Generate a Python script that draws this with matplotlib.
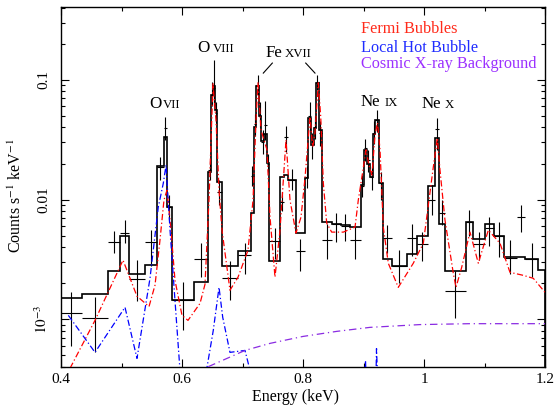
import numpy as np
import matplotlib
matplotlib.use('Agg')
import matplotlib.pyplot as plt
from matplotlib.ticker import MultipleLocator, FuncFormatter, LogLocator, NullFormatter, FixedLocator

plt.rcParams['font.family'] = ['Liberation Serif', 'DejaVu Serif']
plt.rcParams['mathtext.fontset'] = 'stix'

# ---- data (keV, counts s^-1 keV^-1) ----
bin_edges = [0.4, 0.4342, 0.4782, 0.4975, 0.5129, 0.5388, 0.5582, 0.5702, 0.5752, 0.583,
             0.6198, 0.6435, 0.648, 0.6512, 0.6545, 0.6574, 0.6656, 0.6931, 0.714, 0.719,
             0.7231, 0.7273, 0.7314, 0.7355, 0.7397, 0.7443, 0.762, 0.7694, 0.776, 0.7884,
             0.8033, 0.8083, 0.8132, 0.8174, 0.8215, 0.8264, 0.831, 0.8474, 0.862, 0.8777,
             0.8954, 0.9, 0.9058, 0.9107, 0.9165, 0.9198, 0.9256, 0.9317, 0.9466, 0.9714,
             0.9879, 1.0071, 1.0182, 1.0248, 1.0347, 1.0689, 1.0815, 1.1008, 1.1157, 1.1322,
             1.1532, 1.1669, 1.1889, 1.2]

model_total = [1.52e-3, 1.62e-3, 2.54e-3, 4.95e-3, 2.38e-3, 2.87e-3, 0.0191, 0.0333, 8.7e-3, 1.44e-3,
               2.05e-3, 0.017, 0.075, 0.089, 0.056, 0.0141, 2.78e-3, 3.71e-3, 7.8e-3, 0.040,
               0.088, 0.050, 0.031, 0.035, 0.0202, 3.08e-3, 0.0155, 0.016, 0.0146, 5.27e-3,
               0.0151, 0.048, 0.0286, 0.0397, 0.094, 0.038, 6.5e-3, 6.2e-3, 6.1e-3, 5.9e-3,
               0.0132, 0.026, 0.020, 0.0155, 0.035, 0.046, 0.0137, 3.22e-3, 2.78e-3, 3.5e-3,
               4.95e-3, 0.013, 0.0325, 6.2e-3, 2.54e-3, 6.44e-3, 4.73e-3, 6.2e-3, 5.0e-3, 3.32e-3,
               3.3e-3, 3.22e-3, 2.6e-3]

data_rate = [1.14e-3, 1.03e-3, 4.43e-3, 5.27e-3, 2.19e-3, 4.43e-3, 0.0188, 0.0397, 8.7e-3, 1.44e-3,
             3.22e-3, 0.0177, 0.075, 0.086, 0.053, 0.0116, 2.22e-3, 3.43e-3, 0.0158, 0.043,
             0.090, 0.050, 0.030, 0.042, 0.020, 4.5e-3, 9.6e-3, 0.033, 0.0146, 3.71e-3,
             0.0155, 0.050, 0.029, 0.040, 0.095, 0.036, 4.58e-3, 6.2e-3, 6.0e-3, 4.58e-3,
             0.013, 0.027, 0.0214, 0.0155, 0.036, 0.046, 0.0137, 4.76e-3, 2.8e-3, 4.76e-3,
             4.22e-3, 9.9e-3, 0.0387, 7.66e-3, 1.73e-3, 6.44e-3, 4.25e-3, 5.74e-3, 5.0e-3, 3.28e-3,
             7.1e-3, 3.16e-3, np.nan]

data_hi = [1.7e-3, 1.53e-3, 5.5e-3, 6.7e-3, 3.1e-3, 5.6e-3, 0.0228, 0.0493, 0.011, 2.05e-3,
           4.3e-3, 0.021, 0.095, 0.147, 0.065, 0.0146, 3.05e-3, 4.3e-3, 0.019, 0.052,
           0.11, 0.065, 0.038, 0.066, 0.024, 5.75e-3, 0.0115, 0.041, 0.018, 4.7e-3,
           0.019, 0.065, 0.036, 0.05, 0.11, 0.045, 6.3e-3, 7.8e-3, 7.6e-3, 6.0e-3,
           0.016, 0.032, 0.026, 0.019, 0.045, 0.056, 0.017, 6.1e-3, 3.8e-3, 6.3e-3,
           5.4e-3, 0.0133, 0.048, 9.9e-3, 2.55e-3, 8.2e-3, 5.4e-3, 7.2e-3, 6.5e-3, 4.6e-3,
           9.0e-3, 4.3e-3, np.nan]

data_lo = [6.0e-4, 5.3e-4, 3.55e-3, 4.3e-3, 1.43e-3, 2.8e-3, 0.0146, 0.0315, 6.7e-3, 8.1e-4,
           2.25e-3, 0.0145, 0.06, 0.061, 0.044, 9.0e-3, 1.45e-3, 2.4e-3, 0.013, 0.034,
           0.075, 0.040, 0.024, 0.0315, 0.017, 3.2e-3, 8.0e-3, 0.025, 0.012, 2.55e-3,
           0.0125, 0.038, 0.022, 0.032, 0.082, 0.028, 3.2e-3, 4.4e-3, 4.5e-3, 3.2e-3,
           0.0105, 0.021, 0.017, 0.012, 0.029, 0.037, 0.010, 3.56e-3, 2.0e-3, 3.4e-3,
           3.05e-3, 7.4e-3, 0.026, 6.1e-3, 1.03e-3, 5.0e-3, 3.1e-3, 4.1e-3, 3.3e-3, 2.4e-3,
           5.4e-3, 2.25e-3, np.nan]

# Fermi Bubbles component
fb_energy = [0.4149, 0.4562, 0.5025, 0.5256, 0.5455, 0.5554, 0.5636, 0.5702, 0.5752, 0.5818,
             0.5884, 0.6, 0.6099, 0.6298, 0.638, 0.6446, 0.6512, 0.6562, 0.6612, 0.6661,
             0.6793, 0.6926, 0.7091, 0.7174, 0.7223, 0.7256, 0.7306, 0.7355, 0.7405, 0.7455,
             0.7537, 0.762, 0.7719, 0.7785, 0.7884, 0.7967, 0.8033, 0.8116, 0.816, 0.8198,
             0.8253, 0.8293, 0.8336, 0.8392, 0.8474, 0.8666, 0.886, 0.8914, 0.8992, 0.9041,
             0.9091, 0.914, 0.919, 0.9231, 0.9273, 0.9327, 0.941, 0.9575, 0.9823, 0.9989,
             1.0154, 1.022, 1.0264, 1.0347, 1.0484, 1.0529, 1.0623, 1.076, 1.0898, 1.1063,
             1.1256, 1.1421, 1.1641, 1.1807, 1.2]
fb_model = [3.9e-4, 9.8e-4, 3.12e-3, 1.56e-3, 1.28e-3, 1.93e-3, 4.58e-3, 9.9e-3, 0.012, 5.56e-3,
            2.12e-3, 1.08e-3, 9.8e-4, 1.36e-3, 1.96e-3, 9.9e-3, 0.0926, 0.0463, 0.012, 5.56e-3,
            1.75e-3, 2.25e-3, 3.78e-3, 9.9e-3, 0.0463, 0.0944, 0.0382, 0.0315, 0.026, 7.14e-3,
            2.25e-3, 5.56e-3, 0.0315, 9.9e-3, 5.25e-3, 7.14e-3, 0.0151, 0.049, 0.0275, 0.036,
            0.0944, 0.049, 0.0137, 6.36e-3, 5.35e-3, 5.35e-3, 5.89e-3, 9.9e-3, 0.0177, 0.026,
            0.0194, 0.016, 0.0347, 0.0437, 0.026, 5.89e-3, 2.94e-3, 1.85e-3, 2.94e-3, 4.32e-3,
            0.0187, 0.0327, 0.0177, 6.73e-3, 2.43e-3, 1.85e-3, 2.72e-3, 5.35e-3, 2.94e-3, 5.56e-3,
            4.32e-3, 2.47e-3, 2.33e-3, 2.2e-3, 1.68e-3]

# Local Hot Bubble component
lhb_energy = [0.4121, 0.4562, 0.5058, 0.5256, 0.5471, 0.5608, 0.5691, 0.5736, 0.5802, 0.5884,
              0.5967, 0.6033, 0.6364, 0.6413, 0.6517, 0.6612, 0.6673, 0.6793, 0.7041, 0.7112,
              0.7157, 0.9, 0.9033, 0.9058, 0.9198, 0.9215, 0.9248, 1.2]
lhb_model = [1.08e-3, 5.3e-4, 1.26e-3, 4.72e-4, 2.2e-3, 8.65e-3, 0.0137, 0.0194, 5.56e-3, 1.44e-3,
             3.74e-4, 2e-4, 2e-4, 3.97e-4, 8.09e-4, 1.85e-3, 1.04e-3, 5.3e-4, 5.5e-4, 3.97e-4,
             2e-4, 2e-4, 4.54e-4, 2e-4, 2e-4, 5.7e-4, 2e-4, 2e-4]

# Cosmic X-ray Background component
cxb_energy = [0.6298, 0.6408, 0.7041, 0.7455, 0.8, 0.8562, 0.9107, 0.9934, 1.076, 1.2]
cxb_model = [3.1e-4, 3.97e-4, 5.5e-4, 6.3e-4, 7.2e-4, 7.94e-4, 8.57e-4, 9.04e-4, 9.2e-4, 9.2e-4]

line_labels = [("O", "VII", 0.5455, 0.5691, 0.0583),
               ("O", "VIII", 0.6253, 0.6517, 0.170),
               ("Fe", "XVII", 0.7383, 0.7702, 0.155),
               ("Ne", "IX", 0.8954, 0.9355, 0.0606),
               ("Ne", "X", 0.9962, 1.0347, 0.058)]

legend_entries = ["Fermi Bubbles", "Local Hot Bubble", "Cosmic X-ray Background"]
legend_colors = ["#ff2a1a", "#1f2cff", "#9b30ff"]

# ---- figure ----
fig = plt.figure(figsize=(5.54, 4.09), dpi=100)
ax = fig.add_axes([61 / 554, 42 / 409, 484 / 554, 360 / 409])
ax.set_yscale('log')
ax.set_xlim(0.4, 1.2)
ax.set_ylim(4.0e-4, 0.4055)

edges = np.array(bin_edges)
centers = 0.5 * (edges[:-1] + edges[1:])
halfw = 0.5 * (edges[1:] - edges[:-1])
d = np.array(data_rate)
hi = np.array(data_hi)
lo = np.array(data_lo)
ok = np.isfinite(d)

ax.stairs(model_total, edges, color='black', lw=1.2, zorder=2)
ax.errorbar(centers[ok], d[ok], xerr=halfw[ok], yerr=[d[ok] - lo[ok], hi[ok] - d[ok]],
            fmt='none', ecolor='black', elinewidth=0.8, capsize=0, zorder=2)

ax.plot(fb_energy, fb_model, color='#ff0000', lw=0.9, ls=(0, (5, 2, 1, 2)), zorder=3)
ax.plot(lhb_energy, lhb_model, color='#0000ff', lw=0.9, ls=(0, (5, 2, 1, 2)), zorder=3)
ax.plot(cxb_energy, cxb_model, color='#8a2be2', lw=0.9, ls=(0, (6, 3, 1, 3)), zorder=3)

# line labels
for big, small, xb, xs, yb in line_labels:
    ax.text(xb, yb, big, fontsize=12.2, ha='left', va='baseline')
    ax.text(xs, yb, small, fontsize=9.3, ha='left', va='baseline')
ax.plot([0.7344, 0.7493], [0.1138, 0.138], color='black', lw=0.8)
ax.plot([0.8045, 0.8198], [0.138, 0.1138], color='black', lw=0.8)

# legend texts
for txt, col, yy in zip(legend_entries, legend_colors, [0.927, 0.876, 0.830]):
    ax.text(0.619, yy, txt, color=col, fontsize=11.7, transform=ax.transAxes,
            ha='left', va='baseline')

# axes styling
ax.xaxis.set_major_locator(MultipleLocator(0.2))
ax.xaxis.set_minor_locator(MultipleLocator(0.1))
ax.xaxis.set_major_formatter(FuncFormatter(lambda v, p: '%g' % round(v, 3)))
ax.yaxis.set_major_locator(FixedLocator([1e-3, 1e-2, 1e-1]))
ax.yaxis.set_minor_locator(LogLocator(base=10, subs=np.arange(2, 10)))
ax.yaxis.set_minor_formatter(NullFormatter())
ylab = {1e-3: r'$10^{-3}$', 1e-2: '0.01', 1e-1: '0.1'}
ax.yaxis.set_major_formatter(FuncFormatter(lambda v, p: ylab.get(min(ylab, key=lambda k: abs(np.log10(k) - np.log10(v))), '')))

ax.tick_params(which='both', direction='in', top=True, right=True, width=0.8, labelsize=11)
ax.tick_params(which='major', length=5.5)
ax.tick_params(which='minor', length=3)
ax.tick_params(axis='x', pad=4)
ax.tick_params(axis='y', pad=8)
for lab in ax.get_yticklabels():
    lab.set_rotation(90)
    lab.set_va('center')
for s in ax.spines.values():
    s.set_linewidth(1.0)

ax.set_xlabel('Energy (keV)', fontsize=11.5)
ax.set_ylabel(r'Counts s$^{-1}$ keV$^{-1}$', fontsize=11.5)
ax.xaxis.set_label_coords(0.4855, -0.061)
ax.yaxis.set_label_coords(-0.0744, 0.475)

fig.savefig('out.png', dpi=100)
